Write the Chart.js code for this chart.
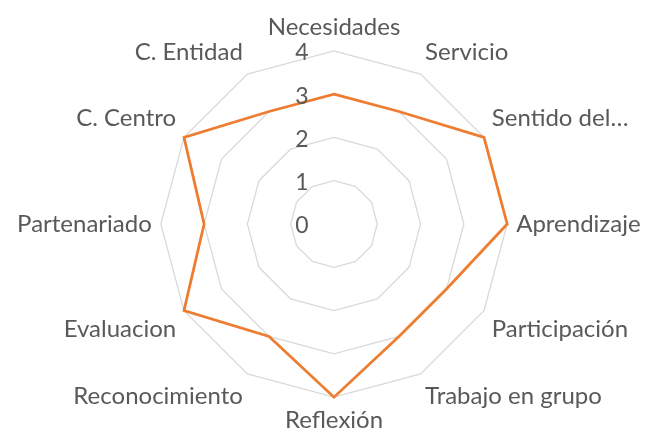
<!DOCTYPE html>
<html><head><meta charset="utf-8">
<script src="https://cdn.jsdelivr.net/npm/chart.js@4/dist/chart.umd.min.js"></script>
<style>html,body{margin:0;padding:0;background:#fff}#wrap{width:647px;height:436px}</style>
</head><body><div id="wrap"><canvas id="c" width="647" height="436"></canvas></div>
<script>
const categories = ["Necesidades","Servicio","Sentido del…","Aprendizaje","Participación","Trabajo en grupo","Reflexión","Reconocimiento","Evaluacion","Partenariado","C. Centro","C. Entidad"];
const values = [3,3,4,4,3,3,4,3,4,3,4,3];
const tickValues = [0,1,2,3,4];
const FONT = "Lato, 'Open Sans', sans-serif";

const tickPlugin = {
  id: 'tickLabels',
  afterDatasetsDraw(chart){
    const s = chart.scales.r; const ctx = chart.ctx;
    ctx.save();
    ctx.font = "23px " + FONT; ctx.fillStyle = "#595959";
    ctx.textAlign = "center"; ctx.textBaseline = "middle";
    tickValues.forEach(v=>{
      const d = s.getDistanceFromCenterForValue(v);
      ctx.fillText(String(v), s.xCenter - 32, s.yCenter - d + 2);
    });
    ctx.restore();
  }
};

new Chart(document.getElementById('c'), {
  type: 'radar',
  data: { labels: categories, datasets: [{ data: values, borderColor: '#ED7D31', borderWidth: 2.8, pointRadius: 0, fill: false, tension: 0 }] },
  options: {
    responsive: false, animation: false,
    layout: { padding: { top: 13, bottom: -10, left: 11, right: -2 } },
    plugins: { legend: { display: false }, tooltip: { enabled: false } },
    scales: { r: {
      min: 0, max: 4,
      ticks: { stepSize: 1, display: false },
      grid: { color: '#d9d9d9', lineWidth: 1.3 },
      angleLines: { display: false },
      pointLabels: { color: '#595959', font: { family: FONT, size: 24 }, padding: 9 }
    } }
  },
  plugins: [tickPlugin]
});
</script></body></html>
